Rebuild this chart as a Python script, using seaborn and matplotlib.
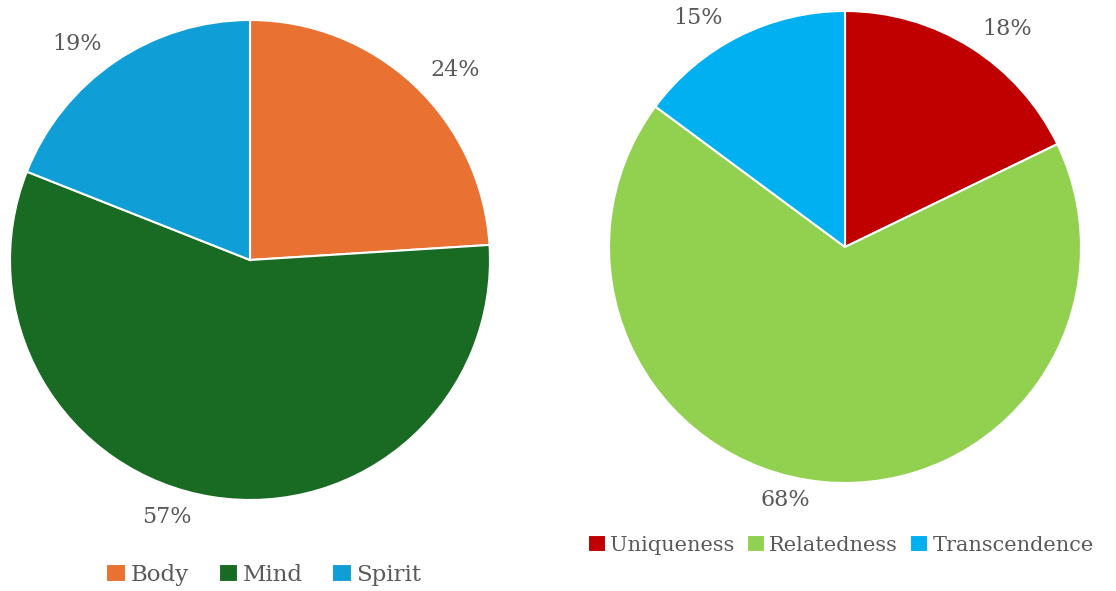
import matplotlib
matplotlib.use("Agg")
import numpy as np
import matplotlib.pyplot as plt
import seaborn as sns

# left pie: Body / Mind / Spirit
dims = ["Body", "Mind", "Spirit"]
dims_pct = [24, 57, 19]
dims_colors = ["#E97132", "#196B24", "#0F9ED5"]

# right pie: Uniqueness / Relatedness / Transcendence
needs = ["Uniqueness", "Relatedness", "Transcendence"]
needs_pct = [18, 68, 15]
needs_colors = ["#C00000", "#92D050", "#00B0F0"]

# label placement tweaks (angle shift in degrees, distance in radii)
dims_lbl_shift = [-4, -9, 4.5]
dims_lbl_dist = [1.165, 1.125, 1.155]
needs_lbl_shift = [-4.5, -8, 6]
needs_lbl_dist = [1.15, 1.10, 1.155]

sns.set_style("white")
plt.rcParams["font.family"] = ["DejaVu Serif"]

W, H = 1116, 591
fig = plt.figure(figsize=(W / 100, H / 100), dpi=100)

# axes boxes from pixel centre + radius
def pie_axes(cx, cy, r):
    return fig.add_axes([(cx - r) / W, 1 - (cy + r) / H, 2 * r / W, 2 * r / H])

ax1 = pie_axes(250, 260, 240)
ax2 = pie_axes(845, 247, 236)

txt_color = "#595959"
fs = 16


def draw_pie(ax, values, colors, shifts, dists):
    wedges, _, autotexts = ax.pie(
        values, colors=colors, startangle=90, counterclock=False,
        autopct="%1.0f%%", pctdistance=1.15, radius=1,
        wedgeprops=dict(edgecolor="white", linewidth=1.5),
        textprops=dict(color=txt_color, fontsize=fs))
    for w, t, v, s, d in zip(wedges, autotexts, values, shifts, dists):
        ang = np.deg2rad((w.theta1 + w.theta2) / 2 + s)
        t.set_position((d * np.cos(ang), d * np.sin(ang)))
        t.set_text(f"{v}%")
    ax.set_xlim(-1, 1)
    ax.set_ylim(-1, 1)
    ax.set_aspect("equal")
    ax.axis("off")
    return wedges


w1 = draw_pie(ax1, dims_pct, dims_colors, dims_lbl_shift, dims_lbl_dist)
w2 = draw_pie(ax2, needs_pct, needs_colors, needs_lbl_shift, needs_lbl_dist)

leg_kw = dict(loc="center", ncol=3, frameon=False,
              handlelength=0.85, handleheight=0.85, handletextpad=0.2,
              labelcolor=txt_color, borderaxespad=0)
fig.legend(w1, dims, bbox_to_anchor=(264 / W, 1 - 575 / H), fontsize=16.5,
           columnspacing=1.3, **leg_kw)
fig.legend(w2, needs, bbox_to_anchor=(841 / W, 1 - 545 / H), fontsize=15,
           columnspacing=0.6, **leg_kw)

fig.savefig("out.png", dpi=100)
